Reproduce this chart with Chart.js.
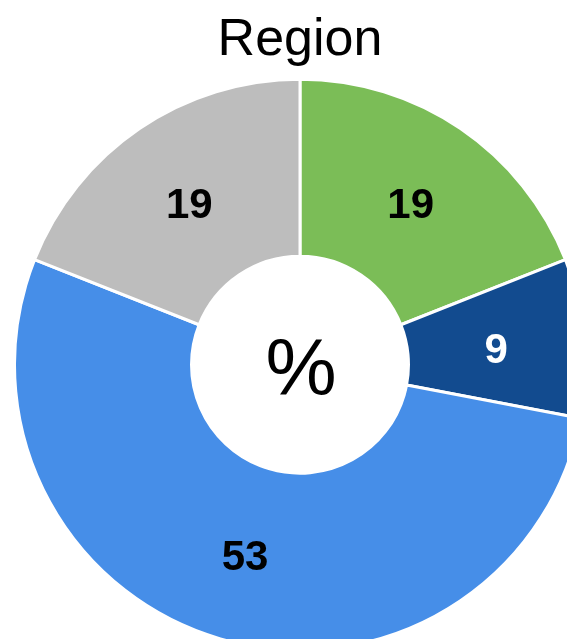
<!DOCTYPE html>
<html>
<head>
<meta charset="utf-8">
<script src="https://cdn.jsdelivr.net/npm/chart.js@4"></script>
<style>
    html, body { margin: 0; padding: 0; background: #fff; overflow: hidden; }
    #wrap { position: relative; width: 567px; height: 639px; overflow: hidden; }
    #chart { position: absolute; left: 13px; top: 0; }
</style>
</head>
<body>
<div id="wrap">
    <canvas id="chart" width="574" height="652"></canvas>
</div>
<script>
const categories = ["Green", "Dark blue", "Blue", "Grey"];
const values = [19, 9, 53, 19];
const sliceColors = ["#7bbd57", "#124b8f", "#468ee8", "#bdbdbd"];
const labelColors = ["#000000", "#ffffff", "#000000", "#000000"];

const FONT = "'Liberation Sans', Arial, sans-serif";

// value labels on the slices + the % in the hole
const sliceLabels = {
    id: "sliceLabels",
    afterDatasetsDraw(chart) {
        const ctx = chart.ctx;
        const meta = chart.getDatasetMeta(0);
        ctx.save();
        ctx.textAlign = "center";
        ctx.textBaseline = "middle";
        ctx.font = "bold 42px " + FONT;
        meta.data.forEach((arc, i) => {
            const pos = arc.tooltipPosition();
            ctx.fillStyle = labelColors[i];
            ctx.fillText(String(values[i]), pos.x, pos.y + 5);
        });
        const area = chart.chartArea;
        ctx.font = "80px " + FONT;
        ctx.fillStyle = "#000";
        ctx.fillText("%", (area.left + area.right) / 2 + 1, (area.top + area.bottom) / 2 + 8);
        ctx.restore();
    }
};

new Chart(document.getElementById("chart").getContext("2d"), {
    type: "doughnut",
    data: {
        labels: categories,
        datasets: [{
            data: values,
            backgroundColor: sliceColors,
            borderColor: "#ffffff",
            borderWidth: 3,
        }]
    },
    options: {
        responsive: false,
        animation: false,
        cutout: "38%",
        layout: { padding: 0 },
        plugins: {
            legend: { display: false },
            tooltip: { enabled: false },
            title: {
                display: true,
                text: "Region",
                color: "#000",
                font: { family: FONT, size: 52, weight: "normal", lineHeight: 1.2 },
                padding: { top: 9, bottom: 6 },
            },
        }
    },
    plugins: [sliceLabels]
});
</script>
</body>
</html>
